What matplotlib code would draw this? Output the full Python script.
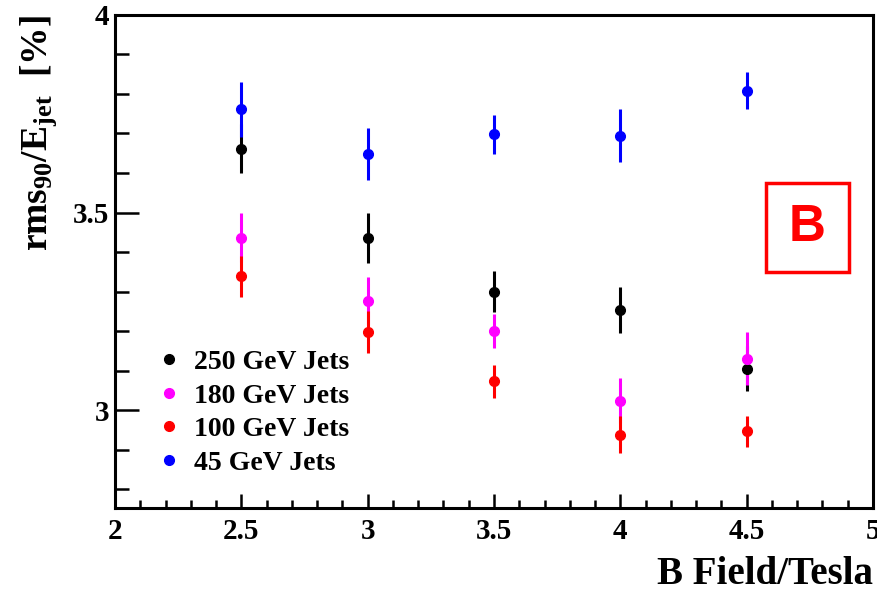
import numpy as np
import matplotlib
matplotlib.use("Agg")
from matplotlib import pyplot as plt
from matplotlib.patches import Rectangle
from matplotlib.lines import Line2D
from matplotlib.ticker import MultipleLocator

plt.rcParams['font.family'] = ['Liberation Serif', 'DejaVu Serif']
plt.rcParams['mathtext.fontset'] = 'custom'
plt.rcParams['mathtext.rm'] = 'Liberation Serif:bold'
plt.rcParams['mathtext.it'] = 'Liberation Serif:bold'
plt.rcParams['mathtext.bf'] = 'Liberation Serif:bold'

b_field = [2.5, 3.0, 3.5, 4.0, 4.5]

labels = ["250 GeV Jets", "180 GeV Jets", "100 GeV Jets", "45 GeV Jets"]
colors = ["black", "magenta", "red", "blue"]

rms_250 = [3.662, 3.436, 3.300, 3.253, 3.105]
err_250 = [0.063, 0.064, 0.052, 0.059, 0.057]

rms_180 = [3.436, 3.277, 3.200, 3.024, 3.130]
err_180 = [0.062, 0.060, 0.042, 0.058, 0.067]

rms_100 = [3.338, 3.197, 3.073, 2.938, 2.946]
err_100 = [0.053, 0.053, 0.042, 0.046, 0.039]

rms_45 = [3.761, 3.648, 3.698, 3.694, 3.808]
err_45 = [0.070, 0.066, 0.050, 0.067, 0.047]

series = [(rms_250, err_250), (rms_180, err_180), (rms_100, err_100), (rms_45, err_45)]

fig = plt.figure(figsize=(8.78, 5.9), dpi=100)
ax = fig.add_axes([0.131, 0.139, 0.8633, 0.8356])

handles = []
for (vals, errs), col, lab in zip(series, colors, labels):
    ax.errorbar(b_field, vals, yerr=errs, fmt='o', color=col, ecolor=col,
                markersize=7, elinewidth=2.2, capsize=0)
    handles.append(Line2D([], [], marker='o', linestyle='none', color=col,
                          markersize=7, label=lab))

ax.set_xlim(2, 5)
ax.set_ylim(2.752, 4)

ax.xaxis.set_minor_locator(MultipleLocator(0.1))
ax.yaxis.set_minor_locator(MultipleLocator(0.1))
ax.set_xticks([2, 2.5, 3, 3.5, 4, 4.5, 5])
ax.set_xticklabels(["2", "2.5", "3", "3.5", "4", "4.5", "5"])
ax.set_yticks([3, 3.5, 4])
ax.set_yticklabels(["3", "3.5", "4"])

ax.tick_params(axis='x', which='major', direction='in', length=10, width=1.8,
               labelsize=21, pad=7)
ax.tick_params(axis='x', which='minor', direction='in', length=6, width=1.8)
ax.tick_params(axis='y', which='major', direction='in', length=17, width=1.8,
               labelsize=21, pad=4)
ax.tick_params(axis='y', which='minor', direction='in', length=10, width=1.8)
for lbl in ax.get_xticklabels() + ax.get_yticklabels():
    lbl.set_fontweight('bold')

for sp in ax.spines.values():
    sp.set_linewidth(2.2)

ax.set_xlabel("B Field/Tesla", fontsize=28, fontweight='bold', loc='right', labelpad=8)
ax.set_ylabel(r"rms$_{\mathregular{90}}$/E$_{\mathregular{jet}}$  [%]", fontsize=27,
              fontweight='bold', loc='top', labelpad=10)

leg = ax.legend(handles=handles, loc='lower left', bbox_to_anchor=(0.02, 0.015),
                frameon=False, prop={'weight': 'bold', 'size': 20},
                handletextpad=0.4, labelspacing=0.29, handlelength=1.0)

ax.add_patch(Rectangle((0.859, 0.479), 0.1095, 0.1805, transform=ax.transAxes,
                       fill=False, edgecolor='red', linewidth=2.5))
ax.text(0.913, 0.568, "B", transform=ax.transAxes, color='red', fontsize=37,
        fontweight='bold', family='Liberation Sans', ha='center', va='center')

fig.savefig("out.png", dpi=100)
